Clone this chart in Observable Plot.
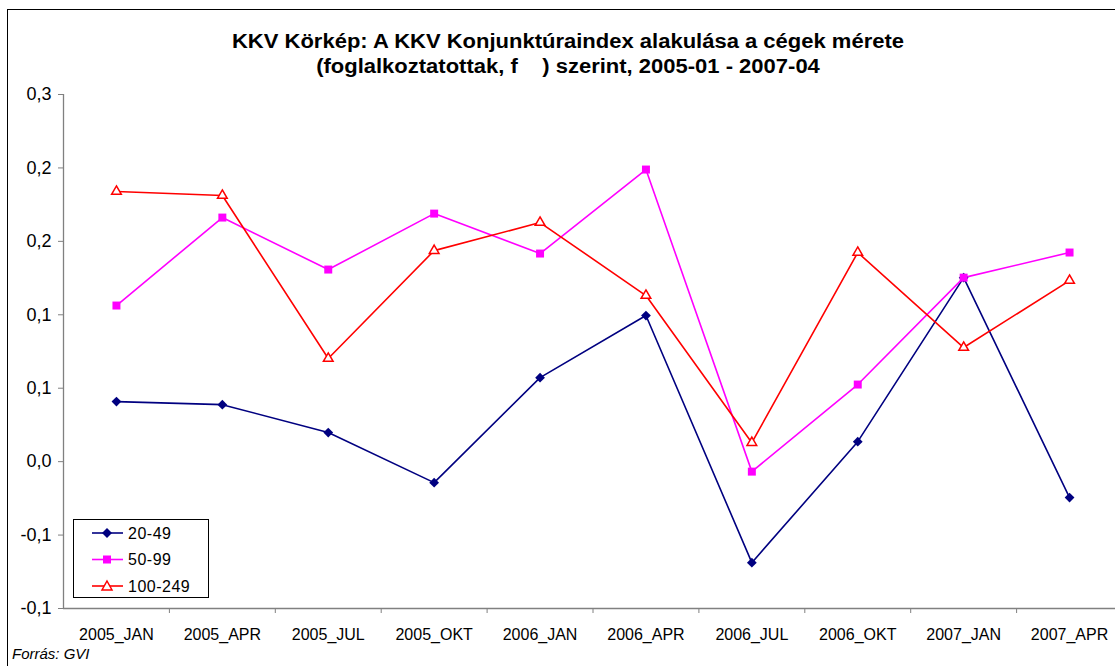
<!DOCTYPE html>
<html>
<head>
<meta charset="utf-8">
<script src="https://cdn.jsdelivr.net/npm/d3@7"></script>
<script src="https://cdn.jsdelivr.net/npm/@observablehq/plot@0.6"></script>
<style>
  html, body { margin: 0; padding: 0; background: #fff; overflow: hidden; }
  #wrap { position: relative; width: 1115px; height: 666px; overflow: hidden; font-family: "Liberation Sans", Arial, sans-serif; }
  #border { position: absolute; left: 7px; top: 9px; width: 1200px; height: 800px; border: 1px solid #000; box-sizing: border-box; }
  #chart { position: absolute; left: 0; top: 0; }
  .title { position: absolute; left: 0; width: 1136px; text-align: center; font-weight: bold; font-size: 20px; color: #000; white-space: pre; transform: scaleX(1.1); transform-origin: 568px 0; }
  #source { position: absolute; left: 12px; top: 645px; font-size: 15px; font-style: italic; color: #000; }
  #legend { position: absolute; left: 73px; top: 519px; }
</style>
</head>
<body>
<div id="wrap">
  <div id="border"></div>
  <div id="chart"></div>
  <div class="title" style="top:30px">KKV Körkép: A KKV Konjunktúraindex alakulása a cégek mérete</div>
  <div class="title" style="top:55px">(foglalkoztatottak, f    ) szerint, 2005-01 - 2007-04</div>
  <div id="legend"></div>
  <div id="source">Forrás: GVI</div>
</div>
<script>
const categories = ["2005_JAN","2005_APR","2005_JUL","2005_OKT","2006_JAN","2006_APR","2006_JUL","2006_OKT","2007_JAN","2007_APR"];
const seriesNames = ["20-49","50-99","100-249"];
const values_20_49   = [0.0409, 0.0388, 0.0198, -0.0143, 0.0572, 0.0995, -0.0688, 0.0136, 0.1253, -0.0245];
const values_50_99   = [0.1063, 0.1662, 0.1308, 0.1689, 0.1417, 0.1989, -0.0068, 0.0525, 0.1253, 0.1424];
const values_100_249 = [0.1839, 0.1812, 0.0702, 0.1437, 0.1628, 0.1131, 0.0129, 0.1424, 0.0777, 0.1233];
const yTicks = [-0.1, -0.05, 0, 0.05, 0.1, 0.15, 0.2, 0.25];
const yTickLabels = ["-0,1","-0,1","0,0","0,1","0,1","0,2","0,2","0,3"];

const colors = {"20-49": "#000080", "50-99": "#FF00FF", "100-249": "#FF0000"};
const seriesValues = {"20-49": values_20_49, "50-99": values_50_99, "100-249": values_100_249};

const data = [];
for (const s of seriesNames) {
  seriesValues[s].forEach((v, i) => data.push({series: s, i, cat: categories[i], value: v}));
}
const idx = categories.map((_, i) => i);
const boundaries = categories.map((_, i) => i + 0.5);

const axisColor = "#808080";
const plot = Plot.plot({
  width: 1115,
  height: 666,
  marginTop: 94,
  marginBottom: 58,
  marginLeft: 63,
  marginRight: 0,
  style: {fontFamily: "'Liberation Sans', Arial, sans-serif", fontSize: "16px", color: "#000", background: "transparent"},
  x: {type: "linear", domain: [-0.5, 9.5], range: [63, 1122]},
  y: {domain: [-0.1, 0.25], range: [608, 94]},
  marks: [
    Plot.ruleY([-0.1], {stroke: axisColor, strokeWidth: 1.3}),
    Plot.ruleX([-0.5], {stroke: axisColor, strokeWidth: 1.3}),
    Plot.axisY({ticks: yTicks, tickFormat: (d) => yTickLabels[yTicks.indexOf(d)], tickSize: 5, tickPadding: 7, stroke: axisColor, fill: "#000", fontSize: 18, label: null}),
    Plot.axisX({ticks: boundaries, tickFormat: () => "", tickSize: 5, stroke: axisColor, label: null}),
    Plot.axisX({ticks: idx, tickFormat: i => categories[i], tickSize: 0, tickPadding: 20, fill: "#000", fontSize: 16, letterSpacing: 0.4, label: null}),
    Plot.line(data, {x: "i", y: "value", z: "series", stroke: d => colors[d.series], strokeWidth: 1.6}),
    Plot.dot(data.filter(d => d.series === "20-49"), {x: "i", y: "value", symbol: "square", rotate: 45, r: 3.9, fill: colors["20-49"], stroke: "none"}),
    Plot.dot(data.filter(d => d.series === "50-99"), {x: "i", y: "value", symbol: "square", r: 4.5, fill: colors["50-99"], stroke: "none"}),
    Plot.dot(data.filter(d => d.series === "100-249"), {x: "i", y: "value", symbol: "triangle", r: 3.6, fill: "#fff", stroke: colors["100-249"], strokeWidth: 1.5})
  ]
});
document.getElementById("chart").appendChild(plot);

// Legend
const ns = "http://www.w3.org/2000/svg";
const lg = document.createElementNS(ns, "svg");
lg.setAttribute("width", 137);
lg.setAttribute("height", 80);
lg.style.fontFamily = "'Liberation Sans', Arial, sans-serif";
const box = document.createElementNS(ns, "rect");
box.setAttribute("x", 0.5); box.setAttribute("y", 0.5);
box.setAttribute("width", 135); box.setAttribute("height", 78);
box.setAttribute("fill", "#fff"); box.setAttribute("stroke", "#000"); box.setAttribute("stroke-width", 1);
lg.appendChild(box);
seriesNames.forEach((s, k) => {
  const cy = 14 + k * 26.5;
  const ln = document.createElementNS(ns, "line");
  ln.setAttribute("x1", 19); ln.setAttribute("x2", 50);
  ln.setAttribute("y1", cy); ln.setAttribute("y2", cy);
  ln.setAttribute("stroke", colors[s]); ln.setAttribute("stroke-width", 1.6);
  lg.appendChild(ln);
  let m;
  if (k === 0) {
    m = document.createElementNS(ns, "path");
    m.setAttribute("d", `M34,${cy-5}L39,${cy}L34,${cy+5}L29,${cy}Z`);
    m.setAttribute("fill", colors[s]);
  } else if (k === 1) {
    m = document.createElementNS(ns, "rect");
    m.setAttribute("x", 30); m.setAttribute("y", cy - 4);
    m.setAttribute("width", 8); m.setAttribute("height", 8);
    m.setAttribute("fill", colors[s]);
  } else {
    m = document.createElementNS(ns, "path");
    m.setAttribute("d", `M34,${cy-5}L39,${cy+4}L29,${cy+4}Z`);
    m.setAttribute("fill", "#fff"); m.setAttribute("stroke", colors[s]); m.setAttribute("stroke-width", 1.5);
  }
  lg.appendChild(m);
  const t = document.createElementNS(ns, "text");
  t.setAttribute("x", 55); t.setAttribute("y", cy);
  t.setAttribute("dy", "0.35em");
  t.setAttribute("font-size", 16);
  t.setAttribute("letter-spacing", 0.5);
  t.textContent = s;
  lg.appendChild(t);
});
document.getElementById("legend").appendChild(lg);
</script>
</body>
</html>
